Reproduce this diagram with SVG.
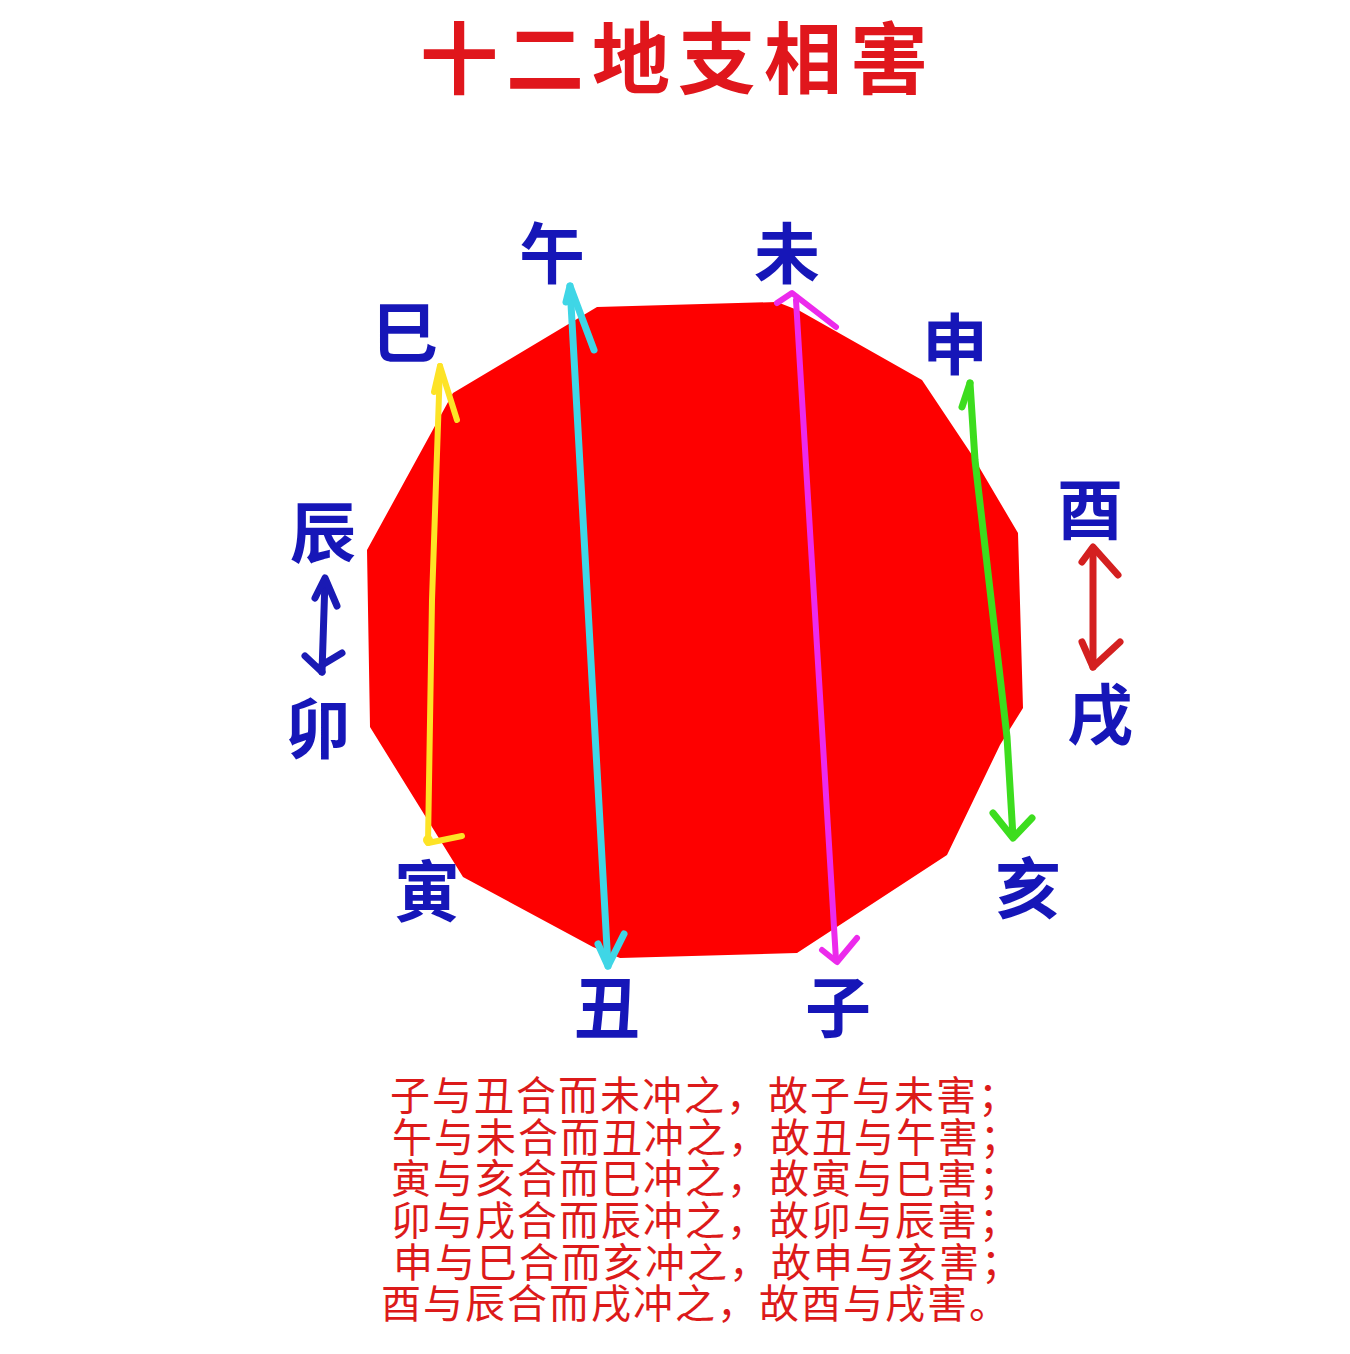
<svg xmlns="http://www.w3.org/2000/svg" width="1350" height="1354" viewBox="0 0 1350 1354">
<style>
.title{font-family:"Noto Sans CJK SC","Noto Sans",sans-serif;font-size:78px;font-weight:bold;fill:#e0161c;letter-spacing:8px}
.lbl{font-family:"Noto Sans CJK SC","Noto Sans",sans-serif;font-size:66px;font-weight:bold;fill:#1616b8;text-anchor:middle}
.txt{font-family:"Noto Sans CJK SC","Noto Sans",sans-serif;font-size:40px;fill:#dc1a1a;letter-spacing:2px}
.arr{fill:none;stroke-linecap:round;stroke-linejoin:round}
</style>
<rect width="1350" height="1354" fill="#ffffff"/>
<g id="title"><text class="title" x="420" y="88">十二地支相害</text></g>
<g id="octagon"><polygon fill="#fe0000" points="597,307 777,302 800,311 922,380 972,455 1018,533 1023,708 1000,745 947,855 797,953 620,958 593,947 463,877 370,727 367,550 453,393"/></g>
<g id="connectors" class="arr">
  <g id="c-yin-si" stroke="#fde326" stroke-width="6">
    <path d="M428,843 L432,600 L440,366"/>
    <path d="M440,366 L457,420 M440,366 L434,392 M428,843 L462,836"/>
    <circle cx="428" cy="840" r="5" fill="#fde326" stroke="none"/>
  </g>
  <g id="c-wu-chou" stroke="#3fd6e6" stroke-width="7">
    <path d="M570,286 L608,966"/>
    <path d="M570,286 L594,350 M570,286 L566,302 M598,944 L608,966 L624,934"/>
  </g>
  <g id="c-wei-zi" stroke="#ec2aec" stroke-width="6">
    <path d="M796,300 L836,960"/>
    <path d="M777,303 L792,293 L836,327 M822,950 L837,962 L857,938"/>
  </g>
  <g id="c-shen-hai" stroke="#3ddd1e" stroke-width="7">
    <path d="M970,383 L975,460 L1007,737 L1013,837"/>
    <path d="M970,383 L962,407 M993,813 L1013,838 L1032,818"/>
  </g>
  <g id="c-chen-mao" stroke="#1a1ab4" stroke-width="7">
    <path d="M325,580 L322,672"/>
    <path d="M315,598 L325,578 L337,606 M305,656 L322,672 M322,665 L342,653"/>
  </g>
  <g id="c-you-xu" stroke="#d42020" stroke-width="7">
    <path d="M1093,548 L1093,667"/>
    <path d="M1082,562 L1093,547 L1118,575 M1082,642 L1093,667 L1120,642"/>
  </g>
</g>
<g id="n-wu"><text class="lbl" x="552" y="278">午</text></g>
<g id="n-wei"><text class="lbl" x="787" y="278">未</text></g>
<g id="n-si"><text class="lbl" x="405" y="357">巳</text></g>
<g id="n-shen"><text class="lbl" x="955" y="369">申</text></g>
<g id="n-chen"><text class="lbl" x="323" y="557">辰</text></g>
<g id="n-you"><text class="lbl" x="1090" y="534">酉</text></g>
<g id="n-mao"><text class="lbl" x="318" y="753">卯</text></g>
<g id="n-xu"><text class="lbl" x="1100" y="739">戌</text></g>
<g id="n-yin"><text class="lbl" x="427" y="916">寅</text></g>
<g id="n-hai"><text class="lbl" x="1028" y="913">亥</text></g>
<g id="n-chou"><text class="lbl" x="607" y="1033">丑</text></g>
<g id="n-zi"><text class="lbl" x="838" y="1032">子</text></g>
<g id="notes">
  <text class="txt" x="390" y="1110">子与丑合而未冲之，故子与未害；</text>
  <text class="txt" x="392" y="1152">午与未合而丑冲之，故丑与午害；</text>
  <text class="txt" x="391" y="1193">寅与亥合而巳冲之，故寅与巳害；</text>
  <text class="txt" x="391" y="1235">卯与戌合而辰冲之，故卯与辰害；</text>
  <text class="txt" x="393" y="1277">申与巳合而亥冲之，故申与亥害；</text>
  <text class="txt" x="381" y="1318">酉与辰合而戌冲之，故酉与戌害。</text>
</g>
</svg>
